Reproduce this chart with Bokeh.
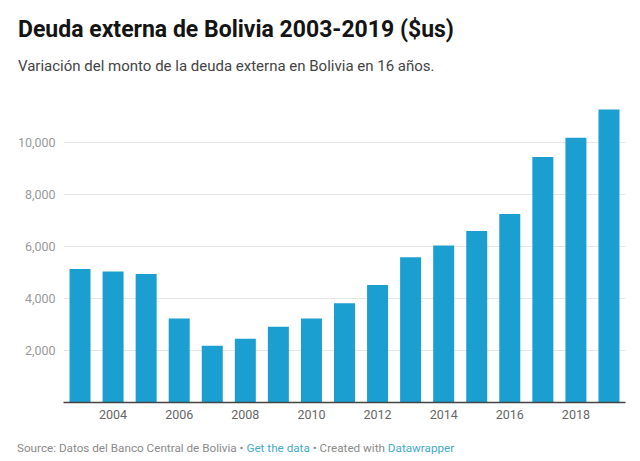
from bokeh.plotting import figure
from bokeh.layouts import column
from bokeh.models import ColumnDataSource, FixedTicker, NumeralTickFormatter, Range1d, Div
from bokeh.embed import file_html
from bokeh.resources import INLINE

# Deuda externa de Bolivia (millones de $us), 2003-2019
years = [2003, 2004, 2005, 2006, 2007, 2008, 2009, 2010, 2011,
         2012, 2013, 2014, 2015, 2016, 2017, 2018, 2019]
deuda = [5130, 5040, 4940, 3230, 2180, 2450, 2910, 3230, 3820,
         4520, 5590, 6040, 6600, 7250, 9440, 10180, 11270]

x_ticks = [2004, 2006, 2008, 2010, 2012, 2014, 2016, 2018]
y_ticks = [2000, 4000, 6000, 8000, 10000]

title_text = "Deuda externa de Bolivia 2003-2019 ($us)"
subtitle_text = "Variación del monto de la deuda externa en Bolivia en 16 años."
source_text = "Source: Datos del Banco Central de Bolivia"
link_data = "Get the data"
created_text = "Created with"
link_dw = "Datawrapper"

FONT = "Roboto"
BAR = "#1a9fd0"
GREY_NOTE = "#8a8a8a"
LINK = "#45abc9"
W = 640
HEADER_H, MAIN_H, FOOTER_H = 95, 345, 21

# header: title and subtitle, absolutely positioned inside a fixed box
header_html = (
    f'<div style="position:relative;width:{W}px;height:{HEADER_H}px;font-family:{FONT};">'
    f'<div style="position:absolute;left:18px;top:18px;font-size:23px;line-height:23px;'
    f'font-weight:bold;color:#141414;white-space:nowrap;">{title_text}</div>'
    f'<div style="position:absolute;left:18px;top:58.5px;font-size:15px;line-height:15px;'
    f'color:#444444;white-space:nowrap;">{subtitle_text}</div>'
    '</div>'
)
header = Div(text=header_html, width=W, height=HEADER_H, margin=(0, 0, 0, 0))

# main bar chart
src = ColumnDataSource(data=dict(year=years, deuda=deuda))
p = figure(width=W, height=MAIN_H, output_backend="svg", toolbar_location=None,
           x_range=Range1d(2002.5, 2019.5), y_range=Range1d(0, 11615),
           min_border_left=63, min_border_right=15,
           min_border_top=5, min_border_bottom=38)
p.outline_line_color = None
p.background_fill_color = "white"
p.border_fill_color = "white"

p.vbar(x="year", top="deuda", width=0.635, source=src,
       fill_color=BAR, line_color=None)

xa = p.xaxis[0]
xa.ticker = FixedTicker(ticks=x_ticks)
xa.axis_line_color = "#444444"
xa.axis_line_width = 1.5
xa.major_tick_line_color = None
xa.minor_tick_line_color = None
xa.major_tick_out = 0
xa.major_label_standoff = 7
xa.major_label_text_font = FONT
xa.major_label_text_font_size = "12.5px"
xa.major_label_text_color = "#666666"

ya = p.yaxis[0]
ya.ticker = FixedTicker(ticks=y_ticks)
ya.formatter = NumeralTickFormatter(format="0,0")
ya.axis_line_color = None
ya.major_tick_line_color = None
ya.minor_tick_line_color = None
ya.major_tick_out = 0
ya.major_label_standoff = 8
ya.major_label_text_font = FONT
ya.major_label_text_font_size = "12.5px"
ya.major_label_text_color = "#9a9a9a"

p.xgrid.grid_line_color = None
p.ygrid.ticker = FixedTicker(ticks=y_ticks)
p.ygrid.grid_line_color = "#e6e6e6"
p.ygrid.grid_line_width = 1

# footer: source line with coloured links
footer_html = (
    f'<div style="position:relative;width:{W}px;height:{FOOTER_H}px;font-family:{FONT};">'
    f'<div style="position:absolute;left:17px;top:3px;font-size:11.7px;line-height:11.7px;'
    f'color:{GREY_NOTE};white-space:nowrap;">'
    f'{source_text} &bull; <span style="color:{LINK};">{link_data}</span> &bull; '
    f'{created_text} <span style="color:{LINK};">{link_dw}</span></div>'
    '</div>'
)
footer = Div(text=footer_html, width=W, height=FOOTER_H, margin=(0, 0, 0, 0))

layout = column(header, p, footer, spacing=0)
open("out.html", "w").write(file_html(layout, INLINE))
